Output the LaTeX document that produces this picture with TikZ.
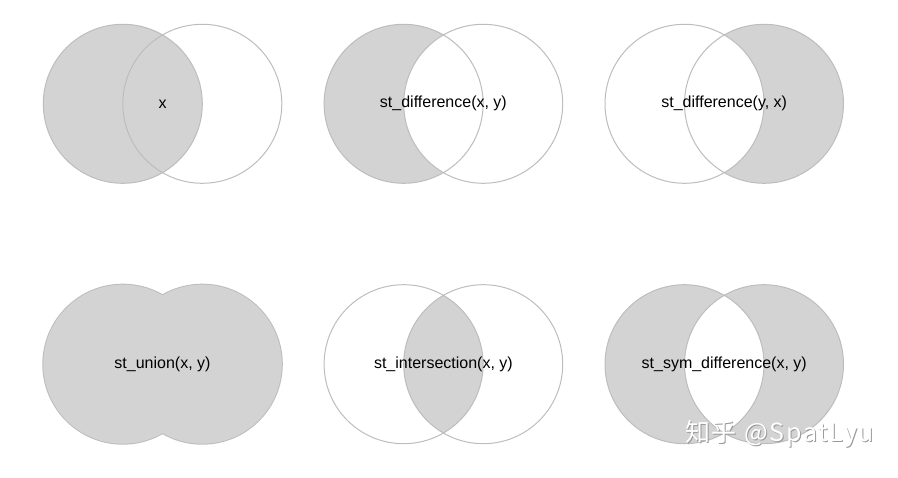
\documentclass[tikz,border=0pt]{standalone}
\usepackage{fontspec}
\setmainfont{Liberation Sans}
\newfontfamily\cjkfont[LetterSpace=7]{Noto Sans CJK SC}
\definecolor{vfill}{HTML}{D3D3D3}
\definecolor{vline}{HTML}{BDBDBD}
\definecolor{wmshadow}{HTML}{9A9A9A}
\newcommand{\vrad}{79.5pt}
\begin{document}
\begin{tikzpicture}[x=1pt,y=-1pt,
  edge/.style={draw=vline,line width=1pt},
  area/.style={fill=vfill},
  blank/.style={fill=white},
  lbl/.style={font=\fontsize{16}{19}\selectfont,inner sep=0pt,text=black},
  wmark/.style={inner sep=0pt,font=\cjkfont\fontsize{25}{25}\selectfont}]
\useasboundingbox (0,0) rectangle (898,478);
% centres
\coordinate (a1) at (122.8,103.8); \coordinate (b1) at (202.3,103.8);
\coordinate (a2) at (403.6,103.8); \coordinate (b2) at (483.2,103.8);
\coordinate (a3) at (684.5,103.8); \coordinate (b3) at (764.0,103.8);
\coordinate (a4) at (122.8,364.2); \coordinate (b4) at (202.3,364.2);
\coordinate (a5) at (403.6,364.2); \coordinate (b5) at (483.2,364.2);
\coordinate (a6) at (684.5,364.2); \coordinate (b6) at (764.0,364.2);
% panel 1: x
\fill[area] (a1) circle[radius=\vrad];
\draw[edge] (a1) circle[radius=\vrad] (b1) circle[radius=\vrad];
\node[lbl] (t1) at (162.5,103.8) {x};
% panel 2: st_difference(x, y)
\fill[area] (a2) circle[radius=\vrad];
\fill[blank] (b2) circle[radius=\vrad];
\draw[edge] (a2) circle[radius=\vrad] (b2) circle[radius=\vrad];
\node[lbl] (t2) at (443.4,103.8) {st\_difference(x, y)};
% panel 3: st_difference(y, x)
\fill[area] (b3) circle[radius=\vrad];
\fill[blank] (a3) circle[radius=\vrad];
\draw[edge] (a3) circle[radius=\vrad] (b3) circle[radius=\vrad];
\node[lbl] (t3) at (724.2,103.8) {st\_difference(y, x)};
% panel 4: union
\draw[draw=vline,line width=2pt] (a4) circle[radius=\vrad] (b4) circle[radius=\vrad];
\fill[area] (a4) circle[radius=\vrad] (b4) circle[radius=\vrad];
\node[lbl] (t4) at (162.5,364.2) {st\_union(x, y)};
% panel 5: intersection
\begin{scope}
  \clip (a5) circle[radius=\vrad];
  \fill[area] (b5) circle[radius=\vrad];
\end{scope}
\draw[edge] (a5) circle[radius=\vrad] (b5) circle[radius=\vrad];
\node[lbl] (t5) at (443.4,364.2) {st\_intersection(x, y)};
% panel 6: sym difference
\fill[area,even odd rule] (a6) circle[radius=\vrad] (b6) circle[radius=\vrad];
\draw[edge] (a6) circle[radius=\vrad] (b6) circle[radius=\vrad];
\node[lbl] (t6) at (724.2,364.2) {st\_sym\_difference(x, y)};
% watermark
\node[wmark,text=wmshadow] (wms) at (780.5,435) {知乎 @SpatLyu};
\node[wmark,text=white] (wm) at (779.5,434) {知乎 @SpatLyu};
\end{tikzpicture}
\end{document}
